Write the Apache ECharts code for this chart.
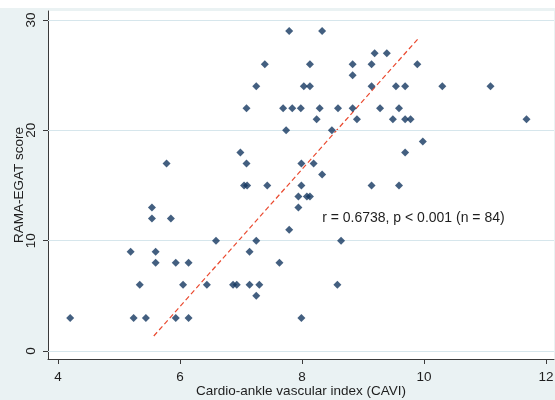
<!DOCTYPE html>
<html><head><meta charset="utf-8">
<script src="https://cdn.jsdelivr.net/npm/echarts@6/dist/echarts.min.js"></script>
<style>
html,body{margin:0;padding:0;background:#fff}
#c{width:555px;height:400px;background:linear-gradient(#ffffff 0 8px,#eaf2f3 8px)}
</style>
</head><body><div id="c"></div>
<script>
// Cardio-ankle vascular index (x) and RAMA-EGAT score (y)
const cavi = [7.79,8.33,9.19,9.39,7.39,8.13,8.83,9.14,9.89,8.83,
  7.25,8.03,8.13,9.14,9.54,9.69,10.30,11.09,
  7.09,7.69,7.84,7.98,8.29,8.59,8.83,9.28,9.59,
  8.24,8.90,9.49,9.69,9.78,11.68,7.74,8.49,9.98,6.99,9.69,
  5.78,7.09,7.99,8.19,8.33,7.05,7.10,7.43,7.99,9.14,9.59,
  7.94,8.08,8.13,5.54,7.94,5.54,5.85,7.79,6.59,7.25,8.64,
  5.19,5.60,7.14,5.60,5.93,6.14,7.63,
  5.34,6.05,6.44,6.87,6.93,7.14,7.30,8.58,7.25,
  4.20,5.24,5.44,5.93,6.14,7.99];
const score = [29,29,27,27,26,26,26,26,26,25,
  24,24,24,24,24,24,24,24,
  22,22,22,22,22,22,22,22,22,
  21,21,21,21,21,21,20,20,19,18,18,
  17,17,17,17,16,15,15,15,15,15,15,
  14,14,14,13,13,12,12,11,10,10,10,
  9,9,9,8,8,8,8,
  6,6,6,6,6,6,6,6,5,
  3,3,3,3,3,3];
const fitX = [5.57, 9.90];
const fitY = [1.36, 28.29];
const xTicks = [4, 6, 8, 10, 12];
const yTicks = [0, 10, 20, 30];
const xTitle = 'Cardio-ankle vascular index (CAVI)';
const yTitle = 'RAMA-EGAT score';
const annotation = 'r = 0.6738, p < 0.001 (n = 84)';
const annotationAt = [8.33, 12.06];

const points = cavi.map((v, i) => [v, score[i]]);
const fitLine = fitX.map((v, i) => [v, fitY[i]]);
const font = 'Liberation Sans, Arial, sans-serif';
const chart = echarts.init(document.getElementById('c'), null, {renderer: 'canvas'});
chart.setOption({
  animation: false,
  grid: {left: 48, right: 1, top: 11, bottom: 41, show: true, backgroundColor: '#ffffff', borderWidth: 0,
    containLabel: false, outerBoundsMode: 'none'},
  xAxis: {
    type: 'value', min: 3.836, max: 12.131,
    axisLine: {show: true, onZero: false, lineStyle: {color: '#3a3a3a', width: 1}},
    axisTick: {show: true, length: 5, customValues: xTicks, lineStyle: {color: '#3a3a3a'}},
    axisLabel: {customValues: xTicks, margin: 11, fontSize: 13.5, color: '#1e1e1e', fontFamily: font},
    splitLine: {show: false},
    name: xTitle, nameLocation: 'middle', nameGap: 25, nameMoveOverlap: false,
    nameTextStyle: {fontSize: 13.5, color: '#1e1e1e', fontFamily: font}
  },
  yAxis: {
    type: 'value', min: -0.725, max: 30.82,
    axisLine: {show: true, onZero: false, lineStyle: {color: '#3a3a3a', width: 1}},
    axisTick: {show: true, length: 5, customValues: yTicks, lineStyle: {color: '#3a3a3a'}},
    axisLabel: {customValues: yTicks, rotate: 90, margin: 10, fontSize: 13.5, color: '#1e1e1e', fontFamily: font},
    splitLine: {show: false},
    name: yTitle, nameLocation: 'middle', nameGap: 22, nameRotate: 90, nameMoveOverlap: false,
    nameTextStyle: {fontSize: 13.5, color: '#1e1e1e', fontFamily: font}
  },
  series: [
    {
      type: 'scatter', data: points, symbol: 'diamond', symbolSize: [8, 8],
      itemStyle: {color: '#143760'}, z: 5,
      markLine: {
        silent: true, symbol: 'none', label: {show: false},
        lineStyle: {color: '#d6e6ec', width: 1, type: 'solid'},
        data: yTicks.map(t => ({yAxis: t}))
      },
      markPoint: {
        symbol: 'circle', symbolSize: 0,
        label: {show: true, position: 'right', distance: 0, formatter: annotation,
          fontSize: 14, color: '#1e1e1e', fontFamily: font},
        data: [{coord: annotationAt}]
      }
    },
    {
      type: 'line', data: fitLine, symbol: 'none', z: 4,
      lineStyle: {color: '#ea4a30', width: 1.2, type: [5, 3]}
    }
  ]
});
</script>
</body></html>
